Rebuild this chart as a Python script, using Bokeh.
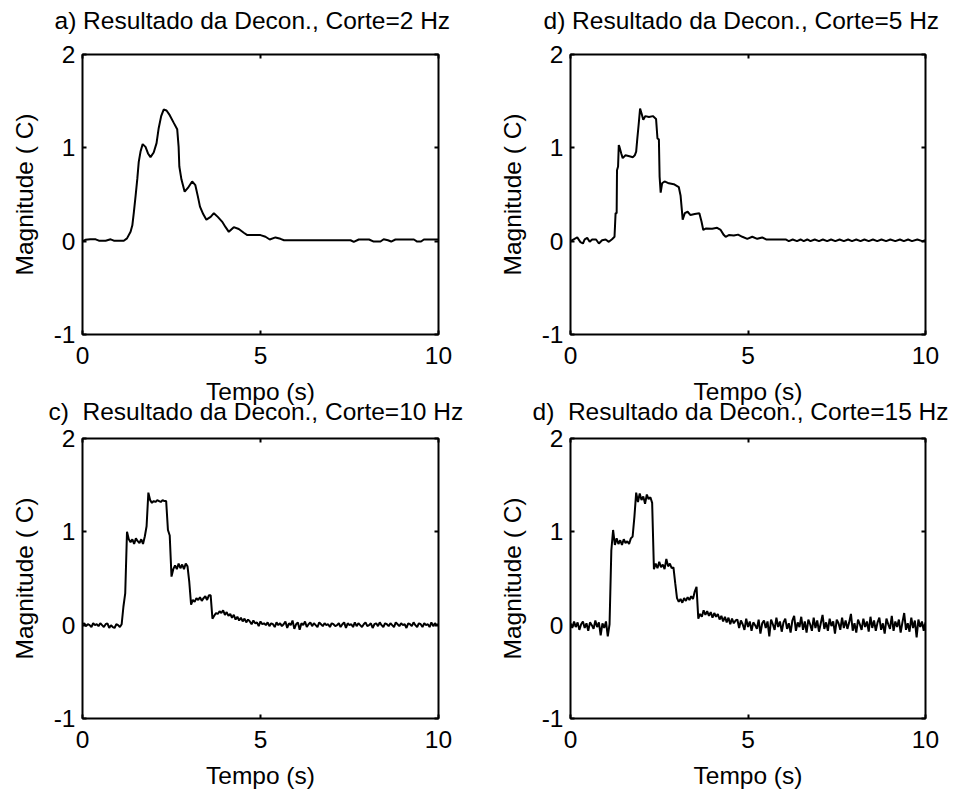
from bokeh.plotting import figure
from bokeh.layouts import column, row
from bokeh.models import LinearAxis, FixedTicker, Range1d
from bokeh.embed import file_html
from bokeh.resources import INLINE

FONT = "Liberation Sans"

# ---------------- data ----------------
x_ticks = [0, 5, 10]
y_ticks = [-1, 0, 1, 2]
y_tick_labels = {-1: "-1", 0: "0", 1: "1", 2: "2"}
x_label = "Tempo (s)"
y_label = "Magnitude ( C)"
titles = [
    "a) Resultado da Decon., Corte=2 Hz",
    "d) Resultado da Decon., Corte=5 Hz",
    "c)\u00a0 Resultado da Decon., Corte=10 Hz",
    "d)\u00a0 Resultado da Decon., Corte=15 Hz",
]

# cut-off 2 Hz
t_2hz = [0.0, 0.08, 0.22, 0.37, 0.46, 0.65, 0.79, 0.88, 1.16, 1.25, 1.35, 1.40, 1.44, 1.49,
         1.54, 1.58, 1.63, 1.69, 1.77, 1.84, 1.91, 2.00, 2.08, 2.14, 2.21, 2.28, 2.36, 2.45,
         2.56, 2.66, 2.70, 2.72, 2.78, 2.87, 2.96, 3.08, 3.17, 3.24, 3.30, 3.39, 3.48, 3.60,
         3.69, 3.80, 3.92, 4.02, 4.11, 4.25, 4.39, 4.53, 4.63, 5.00, 5.14, 5.26, 5.42, 5.56,
         5.66, 7.53, 7.62, 7.76, 8.05, 8.18, 8.37, 8.46, 8.58, 8.67, 8.79, 9.31, 9.40, 9.51,
         9.59, 10.0]
y_2hz = [0.0, 0.014, 0.02, 0.02, 0.005, 0.005, 0.02, 0.005, 0.005, 0.03, 0.10, 0.17, 0.30, 0.48,
         0.67, 0.85, 0.96, 1.04, 1.01, 0.94, 0.90, 0.95, 1.05, 1.21, 1.34, 1.41, 1.40, 1.35,
         1.27, 1.20, 1.01, 0.80, 0.66, 0.53, 0.57, 0.64, 0.60, 0.48, 0.37, 0.29, 0.23, 0.26,
         0.30, 0.26, 0.21, 0.15, 0.10, 0.15, 0.13, 0.09, 0.065, 0.065, 0.047, 0.018, 0.04, 0.025,
         0.01, 0.01, -0.007, 0.018, 0.018, -0.004, -0.004, 0.02, 0.01, -0.004, 0.018, 0.018, -0.004, -0.004,
         0.018, 0.018]

# cut-off 5 Hz
t_5hz = [0.0, 0.09, 0.19, 0.28, 0.35, 0.40, 0.47, 0.54, 0.61, 0.72, 0.80, 0.89, 0.99, 1.08,
         1.17, 1.24, 1.27, 1.30, 1.31, 1.34, 1.36, 1.38, 1.43, 1.47, 1.55, 1.66, 1.76, 1.81,
         1.85, 1.88, 1.92, 1.96, 2.00, 2.05, 2.11, 2.21, 2.32, 2.41, 2.45, 2.49, 2.51, 2.54,
         2.58, 2.65, 2.77, 2.91, 3.05, 3.10, 3.14, 3.16, 3.22, 3.30, 3.38, 3.50, 3.63, 3.69,
         3.74, 3.82, 3.99, 4.13, 4.23, 4.32, 4.37, 4.46, 4.60, 4.72, 4.84, 4.98, 5.12, 5.26,
         5.40, 5.51, 6.06, 6.15, 6.26, 6.38, 6.48, 6.57, 6.67, 6.76, 6.88, 7.00, 7.11, 7.23,
         7.34, 7.46, 7.58, 7.70, 7.82, 7.93, 8.05, 8.17, 8.28, 8.40, 8.52, 8.64, 8.76, 8.89,
         9.01, 9.15, 9.28, 9.39, 9.51, 9.62, 9.77, 9.91, 10.0]
y_5hz = [0.0, 0.02, 0.04, -0.01, -0.025, 0.02, 0.035, -0.007, 0.018, 0.018, -0.025, 0.01, 0.018, -0.007,
         0.02, 0.047, 0.30, 0.30, 0.76, 0.80, 1.03, 1.01, 0.94, 0.89, 0.92, 0.91, 0.90, 0.92,
         0.96, 1.09, 1.25, 1.42, 1.37, 1.30, 1.34, 1.33, 1.34, 1.31, 1.10, 1.09, 0.69, 0.52,
         0.62, 0.64, 0.62, 0.61, 0.58, 0.49, 0.32, 0.23, 0.30, 0.315, 0.28, 0.29, 0.30, 0.21,
         0.12, 0.136, 0.133, 0.143, 0.12, 0.065, 0.047, 0.065, 0.06, 0.07, 0.047, 0.025, 0.047, 0.025,
         0.04, 0.018, 0.018, 0.0, 0.018, 0.0, 0.018, 0.0, 0.018, 0.0, 0.018, 0.0, 0.018, 0.0,
         0.018, 0.0, 0.018, 0.0, 0.018, 0.0, 0.018, 0.0, 0.018, 0.0, 0.018, 0.0, 0.018, 0.0,
         0.018, 0.0, 0.018, 0.0, 0.018, 0.0, 0.018, 0.0, 0.01]

# cut-off 10 Hz, sampled every 0.05 s
y_10hz = [0.01, 0.02, -0.01, 0.01, 0.00, -0.02, 0.02, 0.00, 0.01, -0.01, 0.02, 0.00, -0.02, 0.01,
          0.02, -0.03, 0.00, -0.02, -0.03, 0.01, 0.00, -0.02, 0.01,
          0.20, 0.34, 1.00, 0.92,
          0.89, 0.92, 0.87, 0.93, 0.90, 0.88, 0.92, 0.87,
          0.95, 1.06, 1.42,
          1.34, 1.31, 1.33, 1.32, 1.34, 1.33, 1.32, 1.34, 1.33,
          1.33, 1.02, 0.96, 0.52,
          0.60, 0.64, 0.60, 0.66, 0.61, 0.65, 0.60, 0.66,
          0.63, 0.46, 0.22,
          0.27, 0.25, 0.29, 0.27, 0.30, 0.26, 0.29, 0.31, 0.27, 0.32,
          0.32, 0.07,
          0.10, 0.13, 0.12, 0.15, 0.13, 0.16, 0.11, 0.14, 0.10, 0.12,
          0.08, 0.11, 0.06, 0.09, 0.05, 0.08, 0.04, 0.07, 0.03, 0.06,
          0.04, 0.01, 0.05, 0.02, 0.03, -0.01, 0.04, 0.01, 0.02, 0.00,
          0.03, -0.01, 0.02, 0.01, -0.02, 0.03, 0.00, 0.02, -0.01, 0.01,
          0.04, -0.03, 0.02, 0.00, 0.05, -0.04, 0.01, 0.03, -0.05, 0.02,
          0.00, 0.04, -0.02, 0.01, 0.03, -0.01, 0.02, 0.00, -0.02, 0.03,
          0.01, -0.01, 0.02, 0.00, 0.01, -0.02, 0.02, 0.01, -0.01, 0.00,
          0.02, -0.02, 0.01, 0.03, -0.03, 0.02, 0.00, 0.01, -0.02, 0.03,
          -0.01, 0.02, 0.00, -0.02, 0.01, 0.03, -0.01, 0.00, 0.02, -0.03,
          0.01, 0.02, -0.01, 0.03, 0.00, -0.02, 0.02, 0.01, -0.01, 0.02,
          0.00, -0.02, 0.03, 0.01, -0.01, 0.02, 0.00, 0.01, -0.03, 0.02,
          0.01, -0.01, 0.03, 0.00, -0.02, 0.02, 0.01, -0.02, 0.02, 0.00,
          0.01, -0.02, 0.03, -0.01, 0.02, 0.00, 0.01]

# cut-off 15 Hz, sampled every 0.05 s
y_15hz = [0.02, -0.03, 0.04, -0.02, 0.03, -0.05, 0.01, 0.04, -0.03, 0.02, -0.06, 0.03, 0.00, -0.04,
          0.05, -0.02, 0.03, -0.11, 0.02, -0.03, 0.04, -0.12, 0.01,
          0.80, 1.02, 0.86,
          0.93, 0.87, 0.91, 0.86, 0.92, 0.88, 0.90, 0.87, 0.93,
          0.95, 1.16, 1.42,
          1.32, 1.41, 1.34, 1.38, 1.30, 1.40, 1.35, 1.37, 1.31,
          0.60,
          0.66, 0.61, 0.68, 0.62, 0.65, 0.60, 0.71, 0.63, 0.66, 0.61,
          0.62, 0.45, 0.29,
          0.25, 0.28, 0.24, 0.29, 0.26, 0.30, 0.27, 0.31, 0.28,
          0.36, 0.41, 0.07,
          0.12, 0.09, 0.16, 0.11, 0.15, 0.10, 0.14, 0.08, 0.13, 0.09,
          0.12, 0.06, 0.10, 0.04, 0.09, 0.03, 0.08, 0.01, 0.07, 0.02, 0.05,
          0.06, -0.03, 0.05, 0.01, -0.05, 0.07, -0.02, 0.04, -0.06, 0.03,
          0.00, -0.04, 0.06, -0.09, 0.02, 0.05, -0.03, 0.04, -0.12, 0.06,
          0.01, -0.05, 0.08, -0.02, 0.04, -0.07, 0.03, 0.07, -0.04, 0.02,
          -0.08, 0.05, 0.10, -0.06, 0.03, -0.02, 0.09, -0.05, 0.04, -0.08,
          0.06, 0.01, -0.06, 0.08, -0.03, 0.05, -0.07, 0.02, 0.11, -0.04,
          0.03, -0.06, 0.07, -0.01, 0.04, -0.09, 0.06, 0.02, -0.05, 0.08,
          -0.03, 0.05, -0.04, 0.03, 0.12, -0.06, 0.02, -0.08, 0.06, 0.01,
          -0.05, 0.07, -0.02, 0.04, -0.07, 0.09, -0.03, 0.05, -0.06, 0.03,
          0.08, -0.05, 0.02, -0.09, 0.07, 0.01, -0.04, 0.10, -0.06, 0.04,
          -0.02, 0.06, -0.08, 0.03, 0.13, -0.05, 0.02, -0.07, 0.08, -0.03,
          0.05, -0.13, 0.06, -0.02, 0.04, -0.06, 0.03]

sample_step = 0.05
t_10hz = [round(i * sample_step, 2) for i in range(len(y_10hz))]
t_15hz = [round(i * sample_step, 2) for i in range(len(y_15hz))]

# ---------------- layout ----------------
TXT = "24.5px"


def empty_axis(ticks):
    return LinearAxis(
        ticker=FixedTicker(ticks=ticks),
        major_label_overrides={k: "" for k in ticks},
        major_label_text_font_size="1px",
        major_label_standoff=0,
        major_tick_in=4, major_tick_out=0,
        major_tick_line_width=2, major_tick_line_color="black",
        minor_tick_line_color=None, axis_line_color=None,
    )


def make_panel(title, t, y, width, height, left_b, right_b, top_b, bottom_b,
               title_standoff, title_offset):
    p = figure(width=width, height=height,
               x_range=Range1d(0, 10), y_range=Range1d(-1, 2),
               output_backend="svg", toolbar_location=None,
               min_border_left=left_b, min_border_right=right_b,
               min_border_top=top_b, min_border_bottom=bottom_b,
               title=title)
    p.border_fill_alpha = 0.0
    p.background_fill_color = "white"
    p.title.text_font = FONT
    p.title.text_font_size = TXT
    p.title.text_font_style = "normal"
    p.title.text_color = "black"
    p.title.align = "left"
    p.title.offset = title_offset
    p.title.standoff = title_standoff

    p.xgrid.visible = False
    p.ygrid.visible = False
    p.outline_line_color = "black"
    p.outline_line_width = 2
    p.outline_line_alpha = 1.0

    for ax in (p.xaxis[0], p.yaxis[0]):
        ax.axis_line_color = None
        ax.major_tick_in = 4
        ax.major_tick_out = 0
        ax.major_tick_line_width = 2
        ax.major_tick_line_color = "black"
        ax.minor_tick_line_color = None
        ax.major_label_text_font = FONT
        ax.major_label_text_font_size = TXT
        ax.major_label_text_color = "black"
        ax.axis_label_text_font = FONT
        ax.axis_label_text_font_size = TXT
        ax.axis_label_text_font_style = "normal"
        ax.axis_label_text_color = "black"

    p.xaxis.ticker = FixedTicker(ticks=x_ticks)
    p.yaxis.ticker = FixedTicker(ticks=y_ticks)
    p.yaxis.major_label_overrides = y_tick_labels
    p.xaxis.axis_label = x_label
    p.yaxis.axis_label = y_label
    p.xaxis.major_label_standoff = 12
    p.xaxis.axis_label_standoff = 11
    p.yaxis.major_label_standoff = 7
    p.yaxis.axis_label_standoff = 13

    p.add_layout(empty_axis(x_ticks), "above")
    p.add_layout(empty_axis(y_ticks), "right")

    p.line(t, y, line_color="black", line_width=2)
    return p


TOP_B = 72
BOT_B = 58
TOP_H = TOP_B + 280 + 80
BOT_H = BOT_B + 280 + 80
p1 = make_panel(titles[0], t_2hz, y_2hz, 480, TOP_H, 82, 42, TOP_B, 80, 42, -28)
p2 = make_panel(titles[1], t_5hz, y_5hz, 482, TOP_H, 90, 37, TOP_B, 80, 42, -27)
p3 = make_panel(titles[2], t_10hz, y_10hz, 480, BOT_H, 82, 42, BOT_B, 80, 28, -34)
p4 = make_panel(titles[3], t_15hz, y_15hz, 482, BOT_H, 90, 37, BOT_B, 80, 28, -38)

top_row = row(p1, p2, styles={"margin-top": "-18px"})
bottom_row = row(p3, p4, styles={"margin-top": "-34px"})
layout = column(top_row, bottom_row)

with open("out.html", "w") as f:
    f.write(file_html(layout, INLINE))
